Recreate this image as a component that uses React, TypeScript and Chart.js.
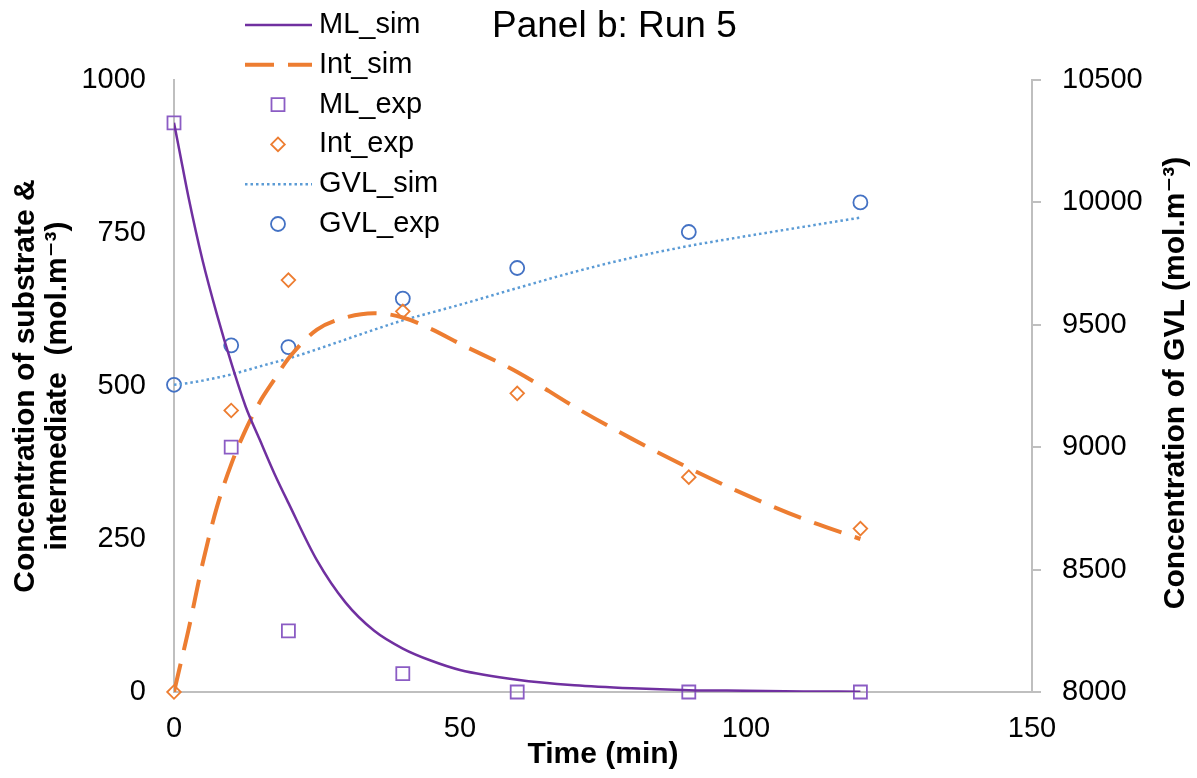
import React, { useEffect, useRef } from "react";
import { Chart, registerables } from "chart.js";

Chart.register(...registerables);

const FONT = "'Liberation Sans', Arial, 'DejaVu Sans', sans-serif";

// ---- data ----
const simTime = [0, 1, 2.5, 5, 7.5, 10, 12.5, 15, 17.5, 20, 25, 30, 35, 40, 45, 50, 60, 70, 80, 90, 100, 110, 120];
const mlSim = [930, 882, 810, 705, 617, 538, 467, 412, 358, 309, 215, 146, 100, 71, 51, 36, 20, 11, 6, 3, 2, 1, 0.5];
const intSim = [0, 40, 100, 210, 302, 372, 428, 474, 510, 545, 592, 612, 619, 612, 593, 569, 523, 466, 414, 366, 322, 283, 250];
const gvlSim = [9255, 9257, 9262, 9272, 9284, 9297, 9313, 9330, 9346, 9362, 9400, 9440, 9480, 9518, 9550, 9582, 9650, 9716, 9774, 9822, 9862, 9900, 9938];

const expTime = [0, 10, 20, 40, 60, 90, 120];
const mlExp = [930, 400, 100, 30, 0, 0, 0];
const intExp = [0, 460, 673, 622, 488, 351, 267];
const gvlExp = [9255, 9416, 9409, 9607, 9732, 9879, 10000];

const xTicks = [0, 50, 100, 150];
const leftTicks = [0, 250, 500, 750, 1000];
const rightTicks = [8000, 8500, 9000, 9500, 10000, 10500];

const titleText = "Panel b: Run 5";
const xTitle = "Time (min)";
const leftTitle = ["Concentration of substrate &", "intermediate  (mol.m\u207B\u00B3)"];
const rightTitle = "Concentration of GVL (mol.m\u207B\u00B3)";

const seriesLabels = ["ML_sim", "Int_sim", "ML_exp", "Int_exp", "GVL_sim", "GVL_exp"];

const pts = (xs: number[], ys: number[]) => xs.map((x, i) => ({ x, y: ys[i] }));
const plain = (v: any) => String(v);

function drawMarker(ctx: CanvasRenderingContext2D, style: string, x: number, y: number, r: number) {
  ctx.beginPath();
  if (style === "rect") {
    const s = Math.SQRT1_2 * r;
    ctx.rect(x - s, y - s, 2 * s, 2 * s);
  } else if (style === "rectRot") {
    ctx.moveTo(x - r, y);
    ctx.lineTo(x, y - r);
    ctx.lineTo(x + r, y);
    ctx.lineTo(x, y + r);
    ctx.closePath();
  } else {
    ctx.arc(x, y, r, 0, Math.PI * 2);
  }
  ctx.stroke();
}

const overlayPlugin = {
  id: "overlay",
  afterDraw(chart: any) {
    const ctx: CanvasRenderingContext2D = chart.ctx;
    ctx.save();
    // title
    ctx.fillStyle = "#000";
    ctx.font = `37px ${FONT}`;
    ctx.textAlign = "left";
    ctx.textBaseline = "alphabetic";
    ctx.fillText(titleText, 492, 37);

    // legend
    ctx.font = `29px ${FONT}`;
    ctx.textBaseline = "middle";
    chart.data.datasets.forEach((ds: any, i: number) => {
      const y = 25 + i * 39.8;
      ctx.save();
      if (ds.showLine !== false) {
        ctx.strokeStyle = ds.borderColor;
        ctx.lineWidth = ds.borderWidth;
        ctx.setLineDash(ds.borderDash || []);
        ctx.lineCap = "butt";
        ctx.beginPath();
        ctx.moveTo(245, y);
        ctx.lineTo(312, y);
        ctx.stroke();
      } else {
        ctx.strokeStyle = ds.pointBorderColor;
        ctx.lineWidth = ds.pointBorderWidth;
        drawMarker(ctx, ds.pointStyle, 278, y, ds.pointRadius);
      }
      ctx.restore();
      ctx.fillStyle = "#000";
      ctx.fillText(ds.label, 319, y);
    });

    // right axis title (reads bottom to top)
    ctx.font = `bold 30px ${FONT}`;
    ctx.textAlign = "center";
    ctx.textBaseline = "middle";
    ctx.translate(1176, 383);
    ctx.rotate(-Math.PI / 2);
    ctx.fillText(rightTitle, 0, 0);
    ctx.restore();
  },
};

export default function App() {
  const ref = useRef<HTMLCanvasElement | null>(null);

  useEffect(() => {
    if (!ref.current) return;
    const axisColor = "#bfbfbf";
    const chart = new Chart(ref.current, {
      type: "line",
      data: {
        datasets: [
          {
            label: seriesLabels[0],
            data: pts(simTime, mlSim),
            yAxisID: "y",
            borderColor: "#7030A0",
            borderWidth: 2.5,
            pointRadius: 0,
            cubicInterpolationMode: "monotone",
            fill: false,
          },
          {
            label: seriesLabels[1],
            data: pts(simTime, intSim),
            yAxisID: "y",
            borderColor: "#ED7D31",
            borderWidth: 4,
            borderDash: [29, 14],
            pointRadius: 0,
            cubicInterpolationMode: "monotone",
            fill: false,
          },
          {
            label: seriesLabels[2],
            data: pts(expTime, mlExp),
            yAxisID: "y",
            showLine: false,
            pointStyle: "rect",
            pointRadius: 9.2,
            pointBorderWidth: 1.8,
            pointBorderColor: "#8B5CC4",
            pointBackgroundColor: "rgba(0,0,0,0)",
            borderColor: "#8B5CC4",
            clip: false,
          },
          {
            label: seriesLabels[3],
            data: pts(expTime, intExp),
            yAxisID: "y",
            showLine: false,
            pointStyle: "rectRot",
            pointRadius: 6.8,
            pointBorderWidth: 1.8,
            pointBorderColor: "#ED7D31",
            pointBackgroundColor: "rgba(0,0,0,0)",
            borderColor: "#ED7D31",
            clip: false,
          },
          {
            label: seriesLabels[4],
            data: pts(simTime, gvlSim),
            yAxisID: "y1",
            borderColor: "#5B9BD5",
            borderWidth: 2.5,
            borderDash: [2.5, 3],
            pointRadius: 0,
            cubicInterpolationMode: "monotone",
            fill: false,
          },
          {
            label: seriesLabels[5],
            data: pts(expTime, gvlExp),
            yAxisID: "y1",
            showLine: false,
            pointStyle: "circle",
            pointRadius: 7,
            pointBorderWidth: 1.8,
            pointBorderColor: "#4472C4",
            pointBackgroundColor: "rgba(0,0,0,0)",
            borderColor: "#4472C4",
            clip: false,
          },
        ] as any,
      },
      options: {
        animation: false,
        responsive: true,
        maintainAspectRatio: false,
        layout: { padding: { top: 80, left: 0, right: 0, bottom: 0 } },
        plugins: {
          legend: { display: false },
          title: { display: false },
          tooltip: { enabled: false },
        },
        scales: {
          x: {
            type: "linear",
            min: 0,
            max: 150,
            afterBuildTicks: (s: any) => {
              s.ticks = xTicks.map((v) => ({ value: v }));
            },
            afterFit: (s: any) => {
              s.height = 86;
            },
            grid: { display: false, drawTicks: false },
            border: { display: true, color: axisColor, width: 2 },
            ticks: { padding: 20, color: "#000", font: { family: FONT, size: 29 }, maxRotation: 0, callback: plain },
            title: {
              display: true,
              text: xTitle,
              color: "#000",
              font: { family: FONT, size: 30, weight: "bold" },
              padding: { top: 0, bottom: 5 },
            },
          },
          y: {
            type: "linear",
            position: "left",
            min: 0,
            max: 1000,
            afterBuildTicks: (s: any) => {
              s.ticks = leftTicks.map((v) => ({ value: v }));
            },
            afterFit: (s: any) => {
              s.width = 174;
            },
            grid: { display: false, drawTicks: false },
            border: { display: true, color: axisColor, width: 2 },
            ticks: { padding: 28, color: "#000", font: { family: FONT, size: 29 }, callback: plain },
            title: {
              display: true,
              text: leftTitle,
              color: "#000",
              font: { family: FONT, size: 30, weight: "bold", lineHeight: 1.07 },
              padding: { top: 10, bottom: 0 },
            },
          },
          y1: {
            type: "linear",
            position: "right",
            min: 8000,
            max: 10500,
            afterBuildTicks: (s: any) => {
              s.ticks = rightTicks.map((v) => ({ value: v }));
            },
            afterFit: (s: any) => {
              s.width = 165;
            },
            grid: {
              display: true,
              drawOnChartArea: false,
              drawTicks: true,
              tickLength: 9,
              color: axisColor,
              lineWidth: 2,
            },
            border: { display: true, color: axisColor, width: 2 },
            ticks: { padding: 21, color: "#000", font: { family: FONT, size: 29 }, callback: plain },
            title: { display: false },
          },
        },
      } as any,
      plugins: [overlayPlugin],
    });
    return () => chart.destroy();
  }, []);

  return (
    <div style={{ position: "absolute", left: 0, top: 0, width: 1197, height: 778, background: "#fff" }}>
      <canvas ref={ref} />
    </div>
  );
}
